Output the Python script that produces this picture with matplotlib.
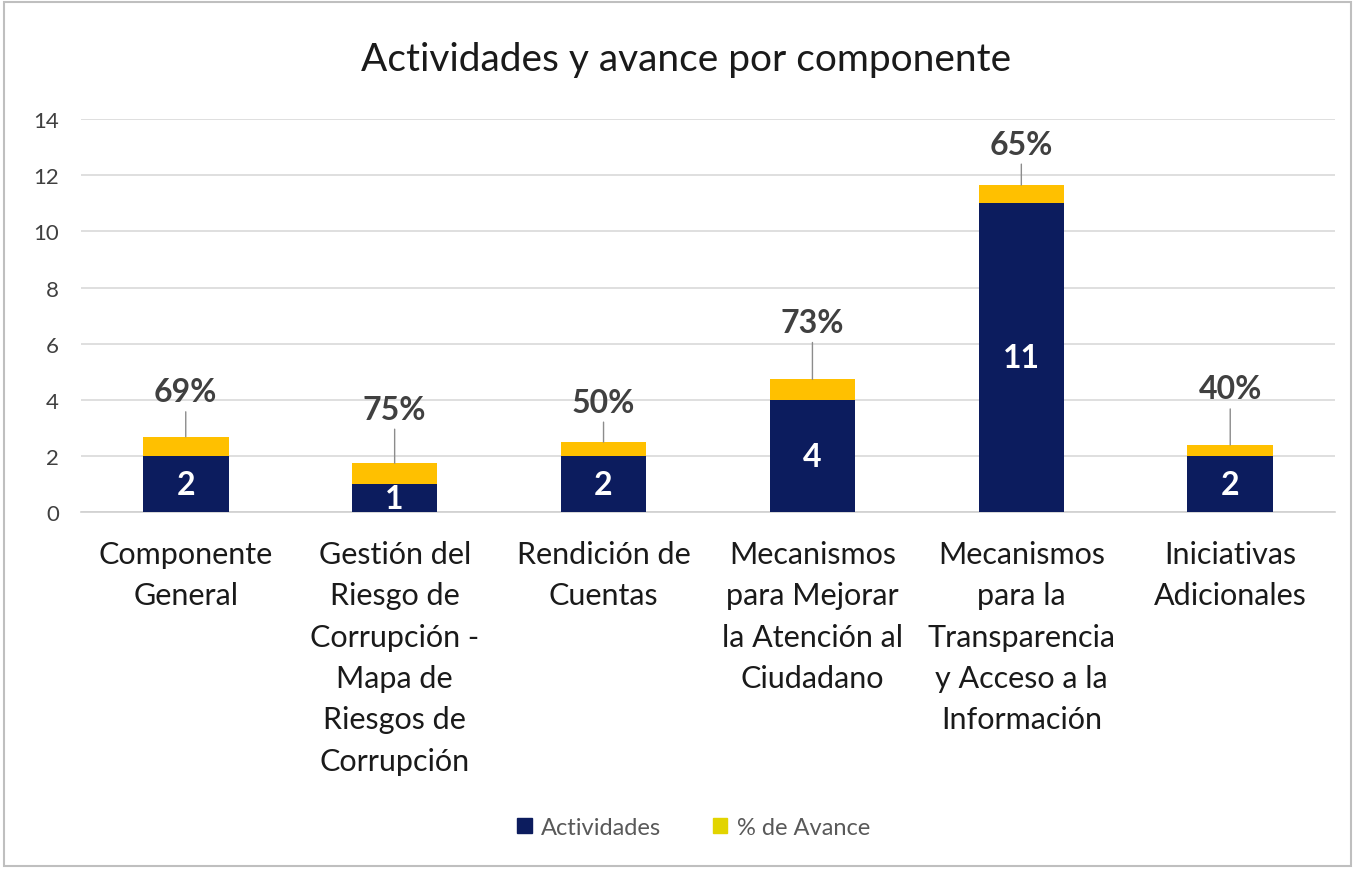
import matplotlib.pyplot as plt
from matplotlib.patches import Patch, Rectangle

plt.rcParams['font.family'] = ['Lato', 'DejaVu Sans']

componentes = [
    "Componente\nGeneral",
    "Gestión del\nRiesgo de\nCorrupción -\nMapa de\nRiesgos de\nCorrupción",
    "Rendición de\nCuentas",
    "Mecanismos\npara Mejorar\nla Atención al\nCiudadano",
    "Mecanismos\npara la\nTransparencia\ny Acceso a la\nInformación",
    "Iniciativas\nAdicionales",
]
actividades = [2, 1, 2, 4, 11, 2]
avance = [0.69, 0.75, 0.50, 0.73, 0.65, 0.40]

# desplazamiento de las etiquetas de % (pixeles sobre la barra)
offsets_px = [45, 54, 40, 57, 41, 56]

NAVY = '#0c1c5e'
GOLD = '#ffc000'
YELLOW_LEG = '#e2d400'

fig = plt.figure(figsize=(13.55, 8.7), dpi=100)
ax = fig.add_axes([0.06, 0.41, 0.925, 0.452])

x = range(len(componentes))
ax.bar(x, actividades, width=0.41, color=NAVY, zorder=3)
ax.bar(x, avance, width=0.41, bottom=actividades, color=GOLD, zorder=3)

for i, (a, p) in enumerate(zip(actividades, avance)):
    ax.text(i, a / 2, str(a), ha='center', va='center', color='white',
            fontsize=23, fontweight='bold', zorder=4)
    ax.annotate(f"{round(p * 100)}%", xy=(i, a + p), xytext=(0, offsets_px[i]),
                textcoords='offset pixels', ha='center', va='center',
                fontsize=23, fontweight='bold', color='#404040',
                arrowprops=dict(arrowstyle='-', color='#8c8c8c', lw=1,
                                shrinkA=2, shrinkB=0), zorder=5)

ax.set_xlim(-0.5, len(componentes) - 0.5)
ax.set_ylim(0, 14)
ax.set_yticks(range(0, 15, 2))
ax.set_xticks(list(x))
ax.set_xticklabels(componentes, fontsize=22, color='#1a1a1a', linespacing=1.58)
ax.tick_params(axis='x', length=0, pad=20)
ax.tick_params(axis='y', length=0, pad=16, labelsize=16, labelcolor='#404040')
ax.grid(axis='y', color='#d9d9d9', lw=1.2, zorder=0)
for s in ['top', 'right', 'left']:
    ax.spines[s].set_visible(False)
ax.spines['bottom'].set_color('#d0d0d0')
ax.spines['bottom'].set_linewidth(1.2)

fig.text(0.506, 0.931, "Actividades y avance por componente", ha='center',
         va='center', fontsize=28, color='#1a1a1a')

handles = [Patch(color=NAVY, label='Actividades'),
           Patch(color=YELLOW_LEG, label='% de Avance')]
fig.legend(handles=handles, loc='center', bbox_to_anchor=(0.512, 0.048), ncol=2,
           frameon=False, fontsize=17, handlelength=0.6, handleheight=0.6,
           handletextpad=0.4, columnspacing=2.2, labelcolor='#595959')

fig.patches.append(Rectangle((0.003, 0.004), 0.994, 0.992, transform=fig.transFigure,
                             fill=False, edgecolor='#bfbfbf', lw=1.5))

fig.savefig('out.png', dpi=100)
